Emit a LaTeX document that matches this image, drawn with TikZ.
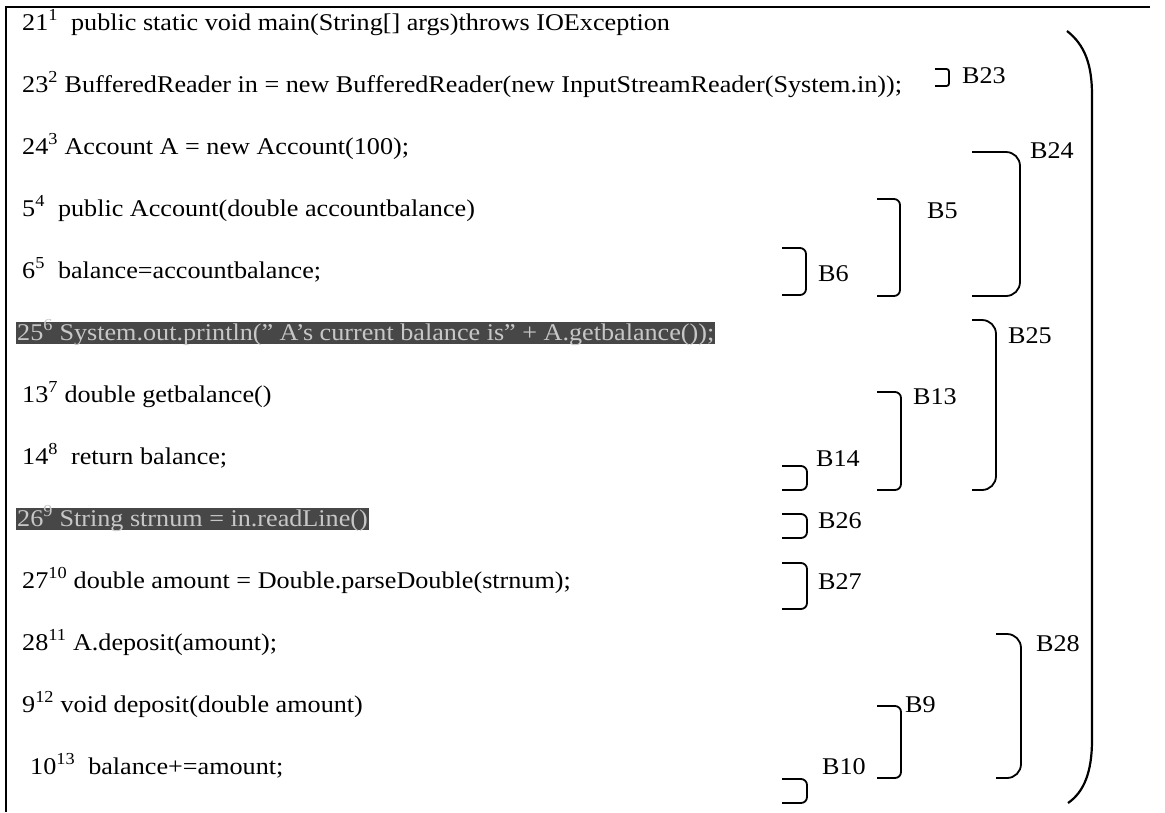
\documentclass[tikz,border=0pt]{standalone}
\usepackage{fontspec}
\setmainfont{Liberation Serif}[FakeStretch=1.09]
\begin{document}
\begin{tikzpicture}[x=1pt,y=-1pt,
  codeline/.style={anchor=base west, inner sep=0pt, font=\fontsize{24}{28}\selectfont},
  hlline/.style={codeline, fill=black!72, text=black!22, inner xsep=1pt,
                 text height=18pt, text depth=4pt},
  blabel/.style={anchor=west, inner sep=0pt, font=\fontsize{24}{28}\selectfont},
  brk/.style={line width=1.8pt, rounded corners=6pt},
  smallbrk/.style={line width=1.8pt, rounded corners=2.5pt},
  bigbrk/.style={line width=1.8pt, rounded corners=14pt}]
\useasboundingbox (0,0) rectangle (1165,812);

% frame
\draw[line width=1.8pt] (6,812) -- (6,7) -- (1150,7);

% code lines
\node[codeline] (l1)  at (22,30)  {21\textsuperscript{1}\ \ public static void main(String[] args)throws IOException};
\node[codeline] (l2)  at (22,92)  {23\textsuperscript{2} BufferedReader in = new BufferedReader(new InputStreamReader(System.in));};
\node[codeline] (l3)  at (22,154) {24\textsuperscript{3} Account A = new Account(100);};
\node[codeline] (l4)  at (22,216) {5\textsuperscript{4}\ \ public Account(double accountbalance)};
\node[codeline] (l5)  at (22,278) {6\textsuperscript{5}\ \ balance=accountbalance;};
\node[hlline]   (l6)  at (16,340) {25\textsuperscript{6} System.out.println(" A's current balance is" + A.getbalance());};
\node[codeline] (l7)  at (22,402) {13\textsuperscript{7} double getbalance()};
\node[codeline] (l8)  at (22,464) {14\textsuperscript{8}\ \ return balance;};
\node[hlline]   (l9)  at (16,526) {26\textsuperscript{9} String strnum = in.readLine()};
\node[codeline] (l10) at (22,588) {27\textsuperscript{10} double amount = Double.parseDouble(strnum);};
\node[codeline] (l11) at (22,650) {28\textsuperscript{11} A.deposit(amount);};
\node[codeline] (l12) at (22,712) {9\textsuperscript{12} void deposit(double amount)};
\node[codeline] (l13) at (30,774) {10\textsuperscript{13}\ \ balance+=amount;};

% block brackets
\draw[smallbrk] (935,69) -- (949,69)  -- (949,86)   -- (935,86);
\draw[bigbrk] (972,152) -- (1020,152) -- (1020,296) -- (972,296);
\draw[brk]    (877,199) -- (900,199)  -- (900,296)  -- (877,296);
\draw[brk]    (782,248) -- (806,248)  -- (806,295)  -- (782,295);
\draw[bigbrk] (972,320) -- (996,320)  -- (996,490)  -- (972,490);
\draw[brk]    (877,392) -- (901,392)  -- (901,490)  -- (877,490);
\draw[brk]    (782,466) -- (807,466)  -- (807,490)  -- (782,490);
\draw[brk]    (782,514) -- (807,514)  -- (807,538)  -- (782,538);
\draw[brk]    (782,563) -- (807,563)  -- (807,609)  -- (782,609);
\draw[bigbrk] (996,634) -- (1021,634) -- (1021,778) -- (996,778);
\draw[brk]    (877,706) -- (901,706)  -- (901,778)  -- (877,778);
\draw[brk]    (782,779) -- (807,779)  -- (807,803)  -- (782,803);

% block labels
\node[blabel] (b23) at (962,76)  {B23};
\node[blabel] (b24) at (1030,151) {B24};
\node[blabel] (b5)  at (927,211) {B5};
\node[blabel] (b6)  at (818,274) {B6};
\node[blabel] (b25) at (1008,336) {B25};
\node[blabel] (b13) at (913,397) {B13};
\node[blabel] (b14) at (816,459) {B14};
\node[blabel] (b26) at (818,521) {B26};
\node[blabel] (b27) at (818,582) {B27};
\node[blabel] (b28) at (1036,644) {B28};
\node[blabel] (b9)  at (905,705) {B9};
\node[blabel] (b10) at (822,767) {B10};

% enclosing parenthesis
\draw[line width=2.2pt] (1067,31) .. controls (1085,45) and (1092,65) .. (1092,95)
  -- (1092,740) .. controls (1092,772) and (1084,792) .. (1068,803);
\end{tikzpicture}
\end{document}
